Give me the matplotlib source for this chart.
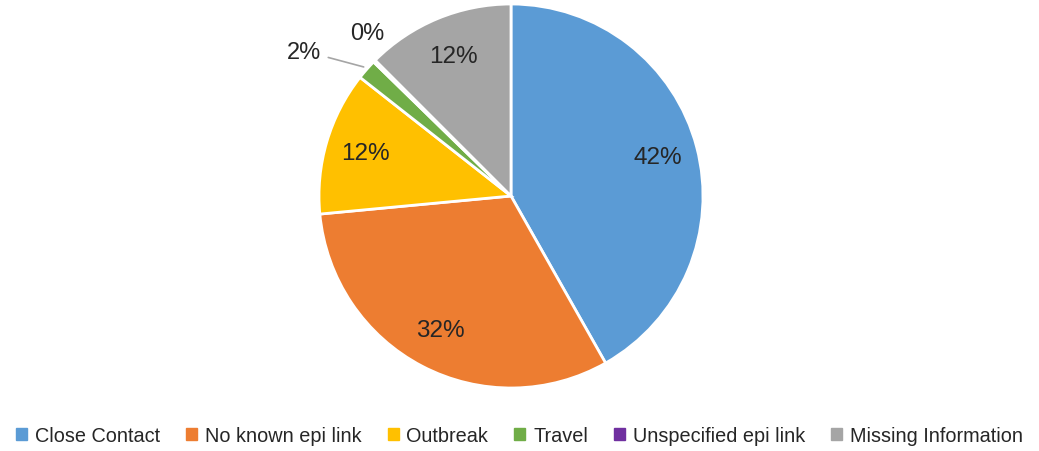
import numpy as np
import matplotlib
matplotlib.use("Agg")
import matplotlib.pyplot as plt

# data
categories = ["Close Contact", "No known epi link", "Outbreak", "Travel",
              "Unspecified epi link", "Missing Information"]
shares = [41.8, 31.7, 12.1, 1.7, 0.2, 12.5]
colors = ["#5B9BD5", "#ED7D31", "#FFC000", "#70AD47", "#7030A0", "#A5A5A5"]

plt.rcParams['font.family'] = ['Liberation Sans', 'DejaVu Sans']

fig = plt.figure(figsize=(10.39, 4.52), dpi=100)
ax = fig.add_axes([319 / 1039, 63 / 452, 384 / 1039, 384 / 452])

wedges, _ = ax.pie(shares, colors=colors, startangle=90, counterclock=False,
                   radius=1, wedgeprops=dict(edgecolor="white", linewidth=2))
ax.set_xlim(-1, 1)
ax.set_ylim(-1, 1)
ax.set_aspect('equal')
ax.axis('off')

# percent labels
for w, val in zip(wedges, shares):
    mid = np.radians((w.theta1 + w.theta2) / 2)
    lab = f"{val:.0f}%"
    if val < 1:
        ax.text(1.15 * np.cos(mid) + 0.07, 1.15 * np.sin(mid) + 0.04, lab,
                ha='center', va='center', fontsize=17, color="#262626")
    elif val < 5:
        x0, y0 = 1.02 * np.cos(mid), 1.02 * np.sin(mid)
        ax.annotate(lab, xy=(x0, y0), xytext=(x0 - 0.22, y0 + 0.08),
                    ha='right', va='center', fontsize=17, color="#262626",
                    arrowprops=dict(arrowstyle='-', color="#A5A5A5", lw=1.2,
                                    shrinkA=3, shrinkB=0,
                                    connectionstyle="angle,angleA=0,angleB=-15,rad=0"))
    else:
        ax.text(0.79 * np.cos(mid), 0.79 * np.sin(mid), lab,
                ha='center', va='center', fontsize=17.5, color="#262626")

handles = [plt.Rectangle((0, 0), 1, 1, color=c) for c in colors]
fig.legend(handles, categories, loc='center', bbox_to_anchor=(0.5, 1 - 437 / 452),
           ncol=6, frameon=False, fontsize=14.3, handlelength=0.55, handleheight=0.55,
           handletextpad=0.4, columnspacing=1.3, labelcolor="#262626",
           borderaxespad=0, borderpad=0)

fig.savefig("out.png", dpi=100)
